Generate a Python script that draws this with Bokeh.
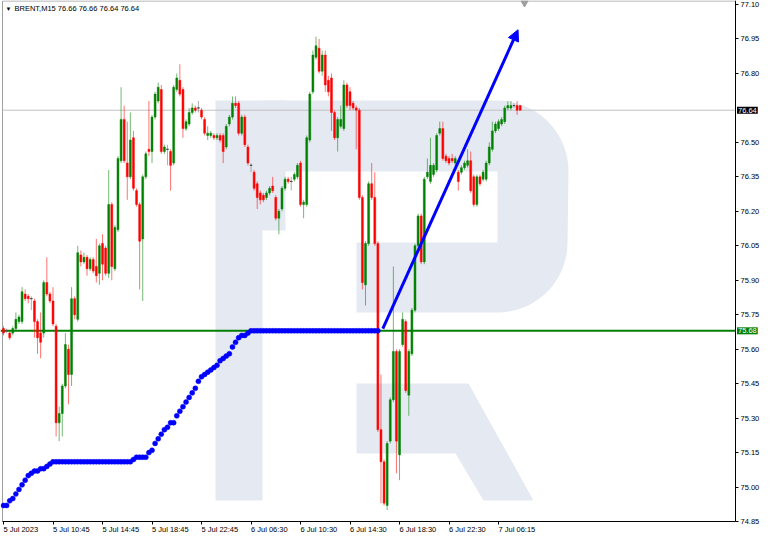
import numpy as np
from bokeh.plotting import figure
from bokeh.models import (ColumnDataSource, Range1d, LinearAxis, FixedTicker, Label,
                          Arrow, NormalHead)
from bokeh.embed import file_html
from bokeh.resources import INLINE

# ---------------- data ----------------
opens = [75.69, 75.68, 75.67, 75.67, 75.69, 75.72, 75.72, 75.84, 75.83, 75.82,
         75.81, 75.72, 75.67, 75.67, 75.89, 75.84, 75.81, 75.70, 75.28, 75.32,
         75.44, 75.60, 75.49, 75.82, 75.73, 76.01, 75.98, 76.00, 75.95, 75.99,
         75.96, 75.93, 76.06, 76.04, 75.93, 76.23, 75.95, 76.12, 76.42, 76.60,
         76.41, 76.35, 76.52, 76.29, 76.23, 76.08, 76.35, 76.47, 76.46, 76.61,
         76.68, 76.73, 76.46, 76.47, 76.46, 76.41, 76.73, 76.77, 76.73, 76.56,
         76.58, 76.63, 76.65, 76.65, 76.64, 76.60, 76.53, 76.53, 76.53, 76.52,
         76.53, 76.53, 76.48, 76.58, 76.61, 76.67, 76.67, 76.54, 76.61, 76.48,
         76.40, 76.37, 76.32, 76.28, 76.27, 76.26, 76.28, 76.31, 76.26, 76.17,
         76.21, 76.30, 76.34, 76.33, 76.34, 76.35, 76.41, 76.23, 76.23, 76.51,
         76.72, 76.87, 76.91, 76.81, 76.88, 76.77, 76.78, 76.63, 76.52, 76.57,
         76.56, 76.75, 76.72, 76.67, 76.65, 76.64, 76.26, 75.88, 76.06, 76.32,
         76.26, 76.06, 75.25, 75.11, 74.92, 75.20, 75.38, 75.59, 75.14, 75.62,
         75.72, 75.40, 75.58, 75.77, 76.05, 76.18, 75.98, 76.35, 76.33, 76.36,
         76.38, 76.54, 76.56, 76.44, 76.43, 76.43, 76.41, 76.37, 76.37, 76.39,
         76.40, 76.42, 76.35, 76.23, 76.35, 76.34, 76.34, 76.41, 76.47, 76.55,
         76.56, 76.58, 76.59, 76.65, 76.65, 76.66, 76.66, 76.66]
highs = [75.70, 75.69, 75.68, 75.70, 75.76, 75.75, 75.87, 75.86, 75.84, 75.83,
         75.82, 75.73, 75.76, 75.90, 76.00, 75.85, 75.87, 75.71, 75.35, 75.45,
         75.67, 75.62, 75.87, 75.83, 76.05, 76.03, 76.02, 76.01, 76.00, 76.00,
         76.08, 76.06, 76.10, 76.05, 76.38, 76.24, 76.14, 76.44, 76.74, 76.66,
         76.59, 76.63, 76.55, 76.30, 76.24, 76.36, 76.46, 76.68, 76.62, 76.72,
         76.76, 76.75, 76.49, 76.49, 76.47, 76.75, 76.80, 76.84, 76.74, 76.60,
         76.65, 76.67, 76.66, 76.68, 76.65, 76.61, 76.57, 76.55, 76.54, 76.54,
         76.54, 76.54, 76.58, 76.62, 76.70, 76.70, 76.68, 76.62, 76.62, 76.49,
         76.41, 76.38, 76.33, 76.29, 76.28, 76.29, 76.31, 76.35, 76.27, 76.21,
         76.31, 76.35, 76.35, 76.35, 76.37, 76.41, 76.42, 76.25, 76.53, 76.72,
         76.90, 76.96, 76.95, 76.90, 76.90, 76.79, 76.80, 76.64, 76.61, 76.66,
         76.77, 76.76, 76.74, 76.68, 76.66, 76.65, 76.27, 76.07, 76.33, 76.41,
         76.37, 76.07, 75.49, 75.12, 75.20, 75.39, 75.96, 75.60, 75.60, 75.76,
         75.73, 75.60, 75.78, 76.06, 76.19, 76.19, 76.35, 76.43, 76.52, 76.41,
         76.54, 76.59, 76.59, 76.45, 76.44, 76.45, 76.44, 76.38, 76.40, 76.42,
         76.47, 76.46, 76.36, 76.36, 76.36, 76.38, 76.42, 76.50, 76.59, 76.59,
         76.60, 76.61, 76.66, 76.68, 76.68, 76.67, 76.68, 76.66]
lows = [75.66, 75.67, 75.64, 75.66, 75.68, 75.71, 75.71, 75.81, 75.80, 75.77,
        75.65, 75.58, 75.56, 75.65, 75.83, 75.80, 75.70, 75.22, 75.20, 75.22,
        75.43, 75.36, 75.44, 75.73, 75.72, 75.96, 75.97, 75.92, 75.94, 75.93,
        75.89, 75.88, 75.90, 75.92, 75.91, 75.90, 75.94, 76.11, 76.41, 76.41,
        76.25, 76.34, 76.29, 76.22, 75.86, 75.81, 76.34, 76.44, 76.41, 76.60,
        76.67, 76.45, 76.45, 76.40, 76.29, 76.40, 76.72, 76.70, 76.52, 76.55,
        76.57, 76.62, 76.63, 76.63, 76.60, 76.53, 76.51, 76.52, 76.51, 76.51,
        76.50, 76.41, 76.47, 76.57, 76.60, 76.65, 76.53, 76.53, 76.48, 76.40,
        76.37, 76.29, 76.21, 76.23, 76.24, 76.25, 76.27, 76.28, 76.16, 76.10,
        76.20, 76.29, 76.32, 76.29, 76.33, 76.34, 76.22, 76.17, 76.22, 76.50,
        76.71, 76.86, 76.80, 76.79, 76.72, 76.70, 76.55, 76.51, 76.46, 76.56,
        76.55, 76.65, 76.64, 76.64, 76.47, 76.25, 75.86, 75.79, 76.05, 76.25,
        76.05, 75.24, 74.93, 74.92, 74.90, 75.19, 75.37, 75.06, 75.03, 75.61,
        75.41, 75.31, 75.57, 75.76, 76.04, 75.97, 75.97, 76.34, 76.32, 76.35,
        76.37, 76.53, 76.42, 76.41, 76.40, 76.41, 76.40, 76.29, 76.36, 76.38,
        76.39, 76.28, 76.22, 76.22, 76.31, 76.33, 76.33, 76.40, 76.46, 76.54,
        76.55, 76.57, 76.58, 76.64, 76.64, 76.65, 76.62, 76.64]
closes = [75.67, 75.68, 75.65, 75.69, 75.73, 75.74, 75.85, 75.82, 75.82, 75.82,
          75.72, 75.65, 75.63, 75.89, 75.84, 75.81, 75.71, 75.28, 75.32, 75.44,
          75.62, 75.49, 75.82, 75.75, 76.02, 75.98, 76.00, 75.95, 75.99, 75.94,
          75.92, 76.05, 75.97, 75.93, 76.23, 75.96, 76.13, 76.43, 76.60, 76.42,
          76.35, 76.51, 76.30, 76.23, 76.07, 76.35, 76.45, 76.46, 76.61, 76.71,
          76.74, 76.46, 76.48, 76.47, 76.40, 76.74, 76.78, 76.71, 76.56, 76.59,
          76.63, 76.65, 76.64, 76.65, 76.61, 76.54, 76.54, 76.54, 76.52, 76.53,
          76.51, 76.46, 76.57, 76.61, 76.67, 76.66, 76.54, 76.61, 76.49, 76.41,
          76.40, 76.30, 76.26, 76.25, 76.25, 76.28, 76.30, 76.29, 76.17, 76.20,
          76.30, 76.34, 76.33, 76.33, 76.36, 76.40, 76.23, 76.24, 76.52, 76.71,
          76.88, 76.92, 76.81, 76.88, 76.75, 76.72, 76.63, 76.52, 76.60, 76.60,
          76.75, 76.66, 76.66, 76.65, 76.64, 76.26, 75.89, 76.06, 76.32, 76.26,
          76.06, 75.25, 75.11, 74.93, 75.19, 75.38, 75.59, 75.20, 75.59, 75.73,
          75.42, 75.59, 75.77, 76.05, 76.18, 75.98, 76.34, 76.37, 76.40, 76.40,
          76.53, 76.56, 76.43, 76.42, 76.41, 76.42, 76.43, 76.33, 76.39, 76.41,
          76.42, 76.29, 76.23, 76.35, 76.32, 76.37, 76.41, 76.48, 76.55, 76.58,
          76.59, 76.60, 76.65, 76.66, 76.66, 76.66, 76.64, 76.64]

# blue dotted indicator, one value per bar from the first bar
indicator = [74.92, 74.92, 74.94, 74.95, 74.97, 74.99, 75.01, 75.03, 75.05, 75.06,
             75.07, 75.07, 75.08, 75.08, 75.09, 75.10, 75.11, 75.11, 75.11, 75.11,
             75.11, 75.11, 75.11, 75.11, 75.11, 75.11, 75.11, 75.11, 75.11, 75.11,
             75.11, 75.11, 75.11, 75.11, 75.11, 75.11, 75.11, 75.11, 75.11, 75.11,
             75.11, 75.11, 75.12, 75.13, 75.13, 75.13, 75.13, 75.15, 75.16, 75.19,
             75.21, 75.23, 75.25, 75.26, 75.28, 75.28, 75.31, 75.33, 75.35, 75.37,
             75.39, 75.41, 75.43, 75.46, 75.48, 75.49, 75.50, 75.51, 75.52, 75.53,
             75.55, 75.56, 75.57, 75.58, 75.61, 75.63, 75.65, 75.66, 75.66, 75.67,
             75.68, 75.68, 75.68, 75.68, 75.68, 75.68, 75.68, 75.68, 75.68, 75.68,
             75.68, 75.68, 75.68, 75.68, 75.68, 75.68, 75.68, 75.68, 75.68, 75.68,
             75.68, 75.68, 75.68, 75.68, 75.68, 75.68, 75.68, 75.68, 75.68, 75.68,
             75.68, 75.68, 75.68, 75.68, 75.68, 75.68, 75.68, 75.68, 75.68, 75.68,
             75.68, 75.68]

time_tick_bars = [0, 16, 32, 48, 64, 80, 96, 112, 128, 144, 160]
time_tick_labels = ["5 Jul 2023", "5 Jul 10:45", "5 Jul 14:45", "5 Jul 18:45", "5 Jul 22:45",
                    "6 Jul 06:30", "6 Jul 10:30", "6 Jul 14:30", "6 Jul 18:30", "6 Jul 22:30",
                    "7 Jul 06:15"]
price_ticks = [74.85, 75.00, 75.15, 75.30, 75.45, 75.60, 75.75, 75.90, 76.05, 76.20,
               76.35, 76.50, 76.80, 76.95, 77.10]
price_tick_labels = ["74.85", "75.00", "75.15", "75.30", "75.45", "75.60", "75.75", "75.90",
                     "76.05", "76.20", "76.35", "76.50", "76.80", "76.95", "77.10"]
support_level = 75.68
last_price = 76.64
arrow_from = (122.6, 75.69)
arrow_to = (166.3, 76.99)
title_text = "BRENT,M15  76.66 76.66 76.64 76.64"

# ---------------- layout helpers (canvas pixel -> data; decoration only) ----------------
def px2x(xp):
    return (xp - 3.0) / 3.094

def px2y(yp):
    return 77.1174 - 0.0043516 * yp

W, H = 766, 538
X0, X1 = px2x(0), px2x(W)
Y0, Y1 = px2y(H), px2y(0)
XAX = px2x(735)      # price scale line
YAX = px2y(521)      # time scale line
XL = px2x(2)         # left border of the chart
FONT = "Liberation Sans"
FS = "7.5px"

p = figure(width=W, height=H, x_range=Range1d(X0, X1), y_range=Range1d(Y0, Y1),
           output_backend="svg", toolbar_location=None,
           x_axis_location=None, y_axis_location=None,
           min_border_left=0, min_border_right=0, min_border_top=0, min_border_bottom=0,
           background_fill_color="white", border_fill_color="white",
           outline_line_color=None)
p.grid.visible = False

def arc(cx, cy, r, a0, a1, n=18):
    t = np.linspace(np.radians(a0), np.radians(a1), n)
    return list(cx + r * np.cos(t)), list(cy - r * np.sin(t))

# watermark "R"
wm_color = "#e4e9f2"
stem = ([215, 262, 262, 285, 285, 262, 262, 215], [100, 100, 100, 100, 230, 230, 500, 500])
ax1, ay1 = arc(497, 171, 71, 90, 0)
ax2, ay2 = arc(497, 242, 70, 0, -90)
bowl_x = [262] + ax1 + ax2 + [356, 356, 497, 497, 262]
bowl_y = [100] + ay1 + ay2 + [312, 242, 242, 171, 171]
leg = ([356, 468, 533, 483, 455, 356], [383, 383, 500, 500, 453, 453])
shapes = [stem, (bowl_x, bowl_y), leg]
p.patches(xs=[[px2x(v) for v in s[0]] for s in shapes],
          ys=[[px2y(v) for v in s[1]] for s in shapes],
          fill_color=wm_color, line_color=None)

# chart frame (left / top borders)
p.segment(x0=[XL, XL], y0=[YAX, px2y(0.5)], x1=[XL, XAX], y1=[px2y(0.5), px2y(0.5)],
          line_color="#a0a0a0", line_width=1)

# horizontal lines
p.segment(x0=[XL], y0=[last_price], x1=[XAX], y1=[last_price], line_color="#c0c0c0", line_width=1)
p.segment(x0=[X0], y0=[support_level], x1=[XAX], y1=[support_level], line_color="#008000",
          line_width=2)

# candles
n = len(opens)
xs = list(range(n))
col, top, bot = [], [], []
for o, c in zip(opens, closes):
    if c > o:
        col.append("#008000")
    elif c < o:
        col.append("#ff0000")
    else:
        col.append("#707070")
    top.append(max(o, c))
    bot.append(min(o, c))
src = ColumnDataSource(dict(x=xs, o=opens, h=highs, l=lows, c=closes, top=top, bot=bot, col=col))
p.segment(x0="x", y0="l", x1="x", y1="h", source=src, line_color="col", line_width=1, line_alpha=0.55)
p.vbar(x="x", top="top", bottom="bot", width=0.62, source=src, fill_color="col", line_color="col",
       line_width=0.5)
dj = [i for i in xs if opens[i] == closes[i]]
doji = ColumnDataSource(dict(x0=[i - 0.4 for i in dj], x1=[i + 0.4 for i in dj],
                             y=[opens[i] for i in dj]))
p.segment(x0="x0", y0="y", x1="x1", y1="y", source=doji, line_color="#404040", line_width=1)

# indicator dots
p.scatter(x=list(range(len(indicator))), y=indicator, size=5, fill_color="#0000ff",
          line_color="#0000ff", line_width=0.5)

# arrow
p.add_layout(Arrow(end=NormalHead(size=11, fill_color="#0000ff", line_color="#0000ff"),
                   x_start=arrow_from[0], y_start=arrow_from[1],
                   x_end=arrow_to[0], y_end=arrow_to[1],
                   line_color="#0000ff", line_width=3))

# chart-shift marker at top
p.scatter(x=[px2x(524)], y=[px2y(2.5)], marker="inverted_triangle", size=7,
          fill_color="#a0a0a0", line_color="#a0a0a0")

# axes (placed at fixed positions inside the canvas)
yax = LinearAxis(ticker=FixedTicker(ticks=price_ticks), fixed_location=XAX, bounds=(YAX, Y1),
                 major_label_overrides={t: s for t, s in zip(price_ticks, price_tick_labels)},
                 major_tick_out=3, major_tick_in=0, minor_tick_out=0, minor_tick_in=0,
                 major_label_standoff=2, axis_line_color="black", major_tick_line_color="black",
                 major_label_text_font=FONT, major_label_text_font_size=FS,
                 major_label_text_color="black")
p.add_layout(yax, "right")
xax = LinearAxis(ticker=FixedTicker(ticks=time_tick_bars), fixed_location=YAX, bounds=(XL, XAX),
                 major_label_overrides={t: "" for t in time_tick_bars},
                 major_tick_out=3, major_tick_in=0, minor_tick_out=0, minor_tick_in=0,
                 major_label_standoff=0, axis_line_color="black", major_tick_line_color="black",
                 major_label_text_font_size="1px")
p.add_layout(xax, "below")

for b, s in zip(time_tick_bars, time_tick_labels):
    p.add_layout(Label(x=b, y=px2y(524.5), text=s, text_align="left", text_baseline="top",
                       text_font=FONT, text_font_size=FS, text_color="black"))

# price labels on the scale
p.add_layout(Label(x=XAX, x_offset=1.5, y=last_price, text=f"{last_price:.2f}", text_align="left",
                   text_baseline="middle", text_font=FONT, text_font_size=FS,
                   text_color="white", background_fill_color="black", padding=1))
p.add_layout(Label(x=XAX, x_offset=1.5, y=support_level, text=f"{support_level:.2f}",
                   text_align="left", text_baseline="middle", text_font=FONT, text_font_size=FS,
                   text_color="white", background_fill_color="#008000", padding=1))

# title
p.add_layout(Label(x=px2x(5), y=px2y(8), text="\u25bc", text_align="left", text_baseline="middle",
                   text_font=FONT, text_font_size="6px", text_color="black"))
p.add_layout(Label(x=px2x(14), y=px2y(8), text=title_text, text_align="left",
                   text_baseline="middle", text_font=FONT, text_font_size=FS,
                   text_color="black"))

open("out.html", "w").write(file_html(p, INLINE))
